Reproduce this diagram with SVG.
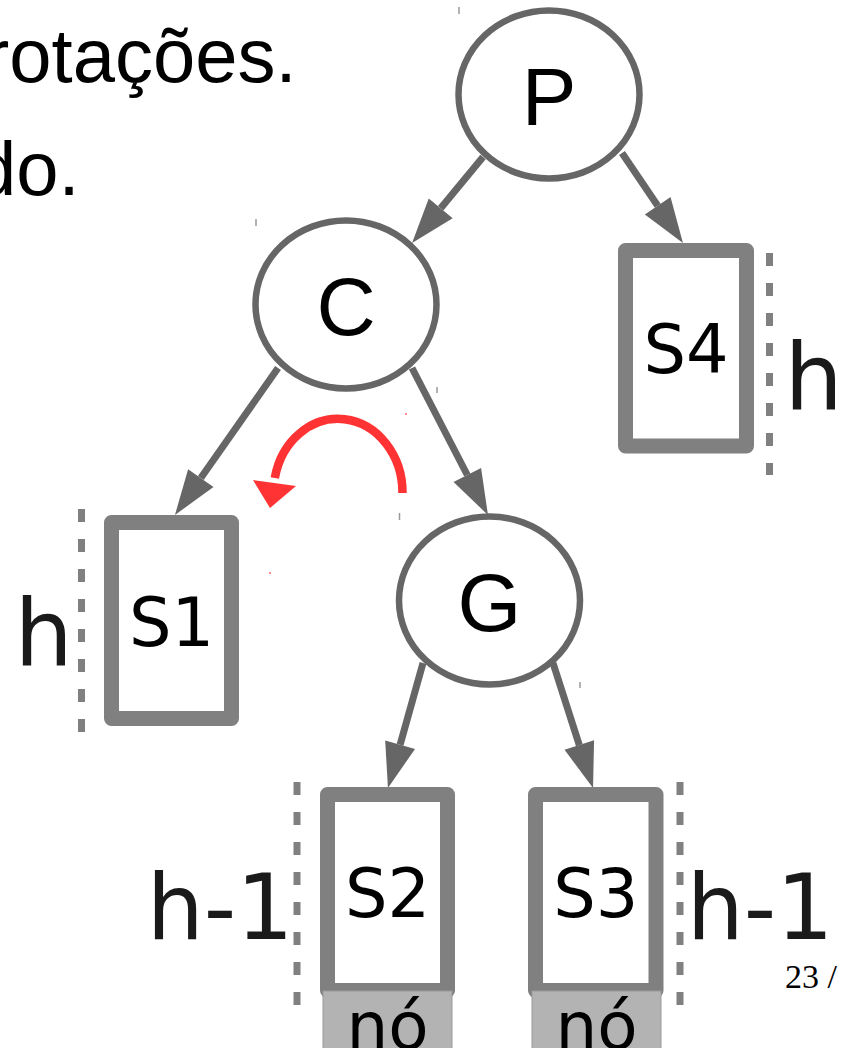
<svg xmlns="http://www.w3.org/2000/svg" width="848" height="1048" viewBox="0 0 848 1048">
  <style>
    .node ellipse { fill: #ffffff; stroke: #666666; stroke-width: 6.5; }
    .node text.lbl { font-family: "Liberation Sans", Arial, sans-serif; font-size: 82px; fill: #000000; text-anchor: middle; }
    .sub rect.box { fill: #ffffff; stroke: #808080; stroke-width: 15; stroke-linejoin: round; }
    .sub text.lbl { font-family: "DejaVu Sans", sans-serif; font-size: 67px; fill: #000000; text-anchor: middle; }
    .leaf rect { fill: #b3b3b3; stroke: #999999; stroke-width: 1; }
    .leaf text { font-family: "DejaVu Sans", sans-serif; font-size: 66px; fill: #000000; text-anchor: middle; }
    .dash { stroke: #808080; stroke-width: 7; stroke-dasharray: 13 17; fill: none; }
    .hlab { font-family: "DejaVu Sans", sans-serif; fill: #1a1a1a; }
    .body { font-family: "Liberation Sans", Arial, sans-serif; font-size: 76px; fill: #000000; }
    .edge { stroke: #666666; stroke-width: 7; fill: none; marker-end: url(#head); }
    .tick { stroke: #9a9a9a; stroke-width: 1.5; }
  </style>
  <defs>
    <marker id="head" markerUnits="userSpaceOnUse" markerWidth="46" markerHeight="32" viewBox="0 -16 46 32" refX="0" refY="0" orient="auto" overflow="visible">
      <path d="M0,-15.5 L45,0 L0,15.5 z" fill="#666666"/>
    </marker>
  </defs>

  <rect x="0" y="0" width="848" height="1048" fill="#ffffff"/>

  <!-- slide text -->
  <text class="body" x="-16" y="82">rotações.</text>
  <text class="body" x="-26" y="195">do.</text>
  <text x="785" y="988" font-family="'Liberation Serif', 'Times New Roman', serif" font-size="34" fill="#000000">23 /</text>

  <!-- connectors -->
  <g id="connectors">
    <line class="edge" x1="483" y1="157" x2="440.7" y2="208.3"/>
    <line class="edge" x1="622" y1="153" x2="657.7" y2="205.7"/>
    <line class="edge" x1="278" y1="368" x2="200.8" y2="478.1"/>
    <line class="edge" x1="412" y1="368" x2="467.3" y2="475"/>
    <line class="edge" x1="423" y1="663" x2="400.1" y2="744.7"/>
    <line class="edge" x1="553" y1="663" x2="579.3" y2="745.1"/>
    <!-- rotation arrow -->
    <path d="M402.5,493 A64.5,74 0 0 0 274.8,478" fill="none" stroke="#ff3333" stroke-width="8.5"/>
    <polygon points="253,480 296,486 270,508" fill="#ff3333"/>
  </g>

  <!-- nodes -->
  <g id="node-P" class="node">
    <ellipse cx="549" cy="94.5" rx="90.5" ry="84"/>
    <text class="lbl" x="549" y="124.5">P</text>
  </g>
  <g id="node-C" class="node">
    <ellipse cx="346" cy="304.5" rx="90.5" ry="84"/>
    <text class="lbl" x="346" y="334.5">C</text>
  </g>
  <g id="node-G" class="node">
    <ellipse cx="489.5" cy="600.5" rx="90.5" ry="84"/>
    <text class="lbl" x="489.5" y="630.5">G</text>
  </g>

  <g id="node-S4" class="sub">
    <rect class="box" x="625.5" y="250.5" width="121" height="195.5"/>
    <text class="lbl" x="686" y="373">S4</text>
    <line class="dash" x1="769.5" y1="253" x2="769.5" y2="475"/>
    <text class="hlab" x="784.6" y="410" font-size="92">h</text>
  </g>
  <g id="node-S1" class="sub">
    <rect class="box" x="111.5" y="522.5" width="120" height="196"/>
    <text class="lbl" x="171.5" y="646">S1</text>
    <line class="dash" x1="81.5" y1="509" x2="81.5" y2="732"/>
    <text class="hlab" x="14.6" y="666" font-size="92">h</text>
  </g>
  <g id="node-S2" class="sub">
    <rect class="box" x="327.5" y="794.5" width="120" height="196"/>
    <text class="lbl" x="387.5" y="917">S2</text>
    <line class="dash" x1="297" y1="782" x2="297" y2="1005"/>
    <text class="hlab" x="146.7" y="939" font-size="90">h-1</text>
  </g>
  <g id="node-S3" class="sub">
    <rect class="box" x="535.5" y="794.5" width="120.5" height="196"/>
    <text class="lbl" x="595.75" y="917">S3</text>
    <line class="dash" x1="680" y1="782" x2="680" y2="1005"/>
    <text class="hlab" x="686.8" y="939" font-size="90">h-1</text>
  </g>

  <g id="leaf-S2" class="leaf">
    <rect x="323" y="991" width="129" height="60"/>
    <text x="387.5" y="1049">nó</text>
  </g>
  <g id="leaf-S3" class="leaf">
    <rect x="532" y="991" width="129" height="60"/>
    <text x="596.5" y="1049">nó</text>
  </g>

  <!-- small marks -->
  <g id="marks">
    <line class="tick" x1="459" y1="7" x2="459" y2="14"/>
    <line class="tick" x1="256" y1="219" x2="256" y2="226"/>
    <line class="tick" x1="437" y1="387" x2="437" y2="393"/>
    <line class="tick" x1="399.5" y1="513" x2="399.5" y2="520"/>
    <line class="tick" x1="580" y1="682" x2="580" y2="688"/>
    <circle cx="406" cy="414" r="1" fill="#ff6666"/>
    <circle cx="270" cy="573" r="1" fill="#ff6666"/>
  </g>
</svg>
